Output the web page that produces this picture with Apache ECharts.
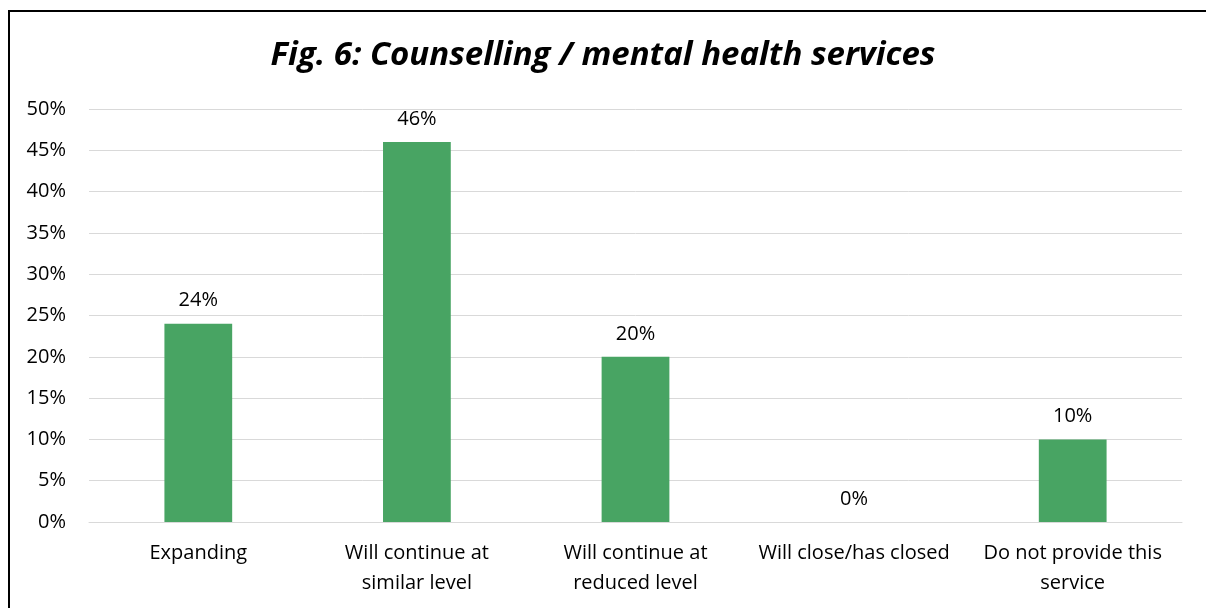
<!DOCTYPE html>
<html>
<head>
<meta charset="utf-8">
<script src="https://cdn.jsdelivr.net/npm/echarts@6/dist/echarts.min.js"></script>
<style>
  html, body { margin: 0; padding: 0; background: #fff; }
  #chart { width: 1206px; height: 608px; }
</style>
</head>
<body>
<div id="chart"></div>
<script>
// Survey responses for counselling / mental health services
const categories = [
  'Expanding',
  'Will continue at\nsimilar level',
  'Will continue at\nreduced level',
  'Will close/has closed',
  'Do not provide this\nservice'
];
const shares = [24, 46, 20, 0, 10];
const yTicks = { min: 0, max: 50, step: 5 };

const FONT = '"Open Sans", "Noto Sans", sans-serif';
const chart = echarts.init(document.getElementById('chart'), null, { renderer: 'canvas' });

chart.setOption({
  animation: false,
  backgroundColor: '#fff',
  title: {
    text: 'Fig. 6: Counselling / mental health services',
    left: 'center',
    top: 34,
    textStyle: {
      fontFamily: FONT,
      fontSize: 33,
      fontWeight: 'bold',
      fontStyle: 'italic',
      color: '#000'
    }
  },
  graphic: [{
    type: 'rect',
    shape: { x: 9, y: 11, width: 1400, height: 800 },
    style: { fill: 'none', stroke: '#000', lineWidth: 2 },
    silent: true
  }],
  grid: { left: 89, right: 24, top: 109, bottom: 86, containLabel: false },
  xAxis: {
    type: 'category',
    data: categories,
    axisLine: { show: true, lineStyle: { color: '#d9d9d9', width: 1 } },
    axisTick: { show: false },
    axisLabel: {
      interval: 0,
      color: '#000',
      fontFamily: FONT,
      fontSize: 20,
      lineHeight: 30,
      margin: 16
    }
  },
  yAxis: {
    type: 'value',
    min: yTicks.min,
    max: yTicks.max,
    interval: yTicks.step,
    axisLine: { show: false },
    axisTick: { show: false },
    splitLine: { lineStyle: { color: '#d9d9d9', width: 1 } },
    axisLabel: {
      formatter: '{value}%',
      color: '#000',
      fontFamily: FONT,
      fontSize: 20,
      margin: 23
    }
  },
  series: [{
    type: 'bar',
    data: shares,
    barWidth: '31%',
    itemStyle: { color: '#48A463' },
    label: {
      show: true,
      position: 'top',
      distance: 13,
      formatter: '{c}%',
      color: '#000',
      fontFamily: FONT,
      fontSize: 20
    }
  }]
});
</script>
</body>
</html>
